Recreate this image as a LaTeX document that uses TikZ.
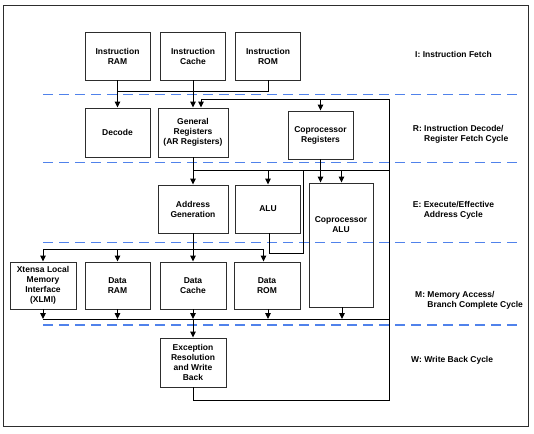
\documentclass[tikz,border=0pt]{standalone}
\usepackage{fontspec}
\setmainfont{Liberation Sans}
\usetikzlibrary{arrows.meta}
\definecolor{dashblue}{RGB}{80,130,235}
\definecolor{boxline}{RGB}{45,45,45}
\begin{document}
\begin{tikzpicture}[x=1pt,y=-1pt,
  txt/.style={font=\fontsize{8.5}{10}\selectfont\bfseries},
  box/.style={txt, draw=boxline, line width=0.9pt, inner sep=0pt, align=center,
              minimum width=65pt, minimum height=48pt},
  lbl/.style={txt, inner sep=0pt, align=left, anchor=west},
  wire/.style={line width=1pt, draw=black},
  arr/.style={wire, -{Triangle[length=6pt,width=5.6pt]}},
  stage/.style={draw=dashblue, line width=1.1pt, dash pattern=on 10pt off 6pt}
]
\useasboundingbox (0,0) rectangle (534,433);
\draw[line width=1pt, draw=boxline] (3,5.3) rectangle (528,426.7);

% stage separators
\draw[stage] (43,94.5) -- (521,94.5);
\draw[stage] (43,162.5) -- (521,162.5);
\draw[stage] (43,242.3) -- (521,242.3);
\draw[stage] (43,325) -- (521,325);

% boxes
\node[box] (iram)   at (117.5,56) {Instruction\\RAM};
\node[box] (icache) at (193,56)   {Instruction\\Cache};
\node[box] (irom)   at (268,56)   {Instruction\\ROM};

\node[box, minimum height=49pt] (decode) at (117.5,132.5) {Decode};
\node[box, minimum width=70pt, minimum height=49pt] (genreg) at (193,132.5) {General\\Registers\\(AR Registers)};
\node[box] (copreg) at (320.5,135) {Coprocessor\\Registers};

\node[box, minimum width=70pt] (addrgen) at (193,209) {Address\\Generation};
\node[box] (alu) at (268,209) {ALU};
\node[box, minimum width=64pt, minimum height=124pt] (copalu) at (341,245) {};
\node[txt, align=center, inner sep=0pt] (copalutxt) at (341,225) {Coprocessor\\ALU};

\node[box, minimum width=66pt, minimum height=47pt] (xlmi)   at (43,285.5)  {Xtensa Local\\Memory\\Interface\\(XLMI)};
\node[box, minimum height=47pt] (dram)   at (117.5,285.5) {Data\\RAM};
\node[box, minimum width=66pt, minimum height=47pt] (dcache) at (193,285.5) {Data\\Cache};
\node[box, minimum width=66pt, minimum height=47pt] (drom)   at (267,285.5) {Data\\ROM};

\node[box, minimum width=66pt, minimum height=49pt] (exc) at (193,362.5) {Exception\\Resolution\\and Write\\Back};

% stage labels
\node[lbl] (lI) at (415,54) {I: Instruction Fetch};
\node[lbl] (lR) at (412.7,134) {R: Instruction Decode/\\\phantom{R: }Register Fetch Cycle};
\node[lbl] (lE) at (412.7,210) {E: Execute/Effective\\\phantom{E: }Address Cycle};
\node[lbl] (lM) at (415,300) {M: Memory Access/\\\phantom{M: }Branch Complete Cycle};
\node[lbl] (lW) at (411,360.7) {W: Write Back Cycle};

% coordinates
\coordinate (jif)  at (268,91);
\coordinate (rt)   at (389,99);
\coordinate (rb)   at (389,400);
\coordinate (rbus) at (389,170);
\coordinate (aluB) at (303,253);
\coordinate (dbus) at (43,249);
\coordinate (obus) at (389,319);

% instruction fetch
\draw[wire] (irom.south) |- (iram.south |- jif);
\draw[arr] (iram.south) -- (decode.north);
\draw[arr] (icache.south) -- (icache.south |- genreg.north);

% write-back loop
\draw[wire] (exc.south) |- (rb) -- (rt);
\draw[arr] (rt) -| ([xshift=8pt]genreg.north);
\draw[arr] (copreg.north |- rt) -- (copreg.north);

% register read bus
\draw[arr] (genreg.south) -- (addrgen.north);
\draw[wire] (genreg.south |- rbus) -- (rbus);
\draw[arr] (alu.north |- rbus) -- (alu.north);
\draw[arr] ([xshift=0.5pt]copalu.north |- rbus) -- ([xshift=0.5pt]copalu.north);
\draw[arr] (copreg.south) -- (copreg.south |- copalu.north);

% ALU bypass
\draw[wire] ([xshift=1pt]alu.south) |- (aluB) -- (aluB |- rbus);

% address distribution
\draw[arr] (addrgen.south) -- (dcache.north);
\draw[wire] (addrgen.south |- dbus) -- (xlmi.north |- dbus);
\draw[arr] (xlmi.north |- dbus) -- (xlmi.north);
\draw[arr] (dram.north |- dbus) -- (dram.north);
\draw[arr] (addrgen.south |- dbus) -| ([xshift=-3.5pt]drom.north);

% memory output bus
\draw[wire] (xlmi.south |- obus) -- (obus);
\draw[arr] (xlmi.south) -- (xlmi.south |- obus);
\draw[arr] (dram.south) -- (dram.south |- obus);
\draw[arr] (dcache.south) -- (dcache.south |- obus);
\draw[arr] ([xshift=1pt]drom.south) -- ([xshift=1pt]drom.south |- obus);
\draw[arr] ([xshift=1pt]copalu.south) -- ([xshift=1pt]copalu.south |- obus);
\draw[arr] (dcache.south |- obus) -- (exc.north);
\end{tikzpicture}
\end{document}
